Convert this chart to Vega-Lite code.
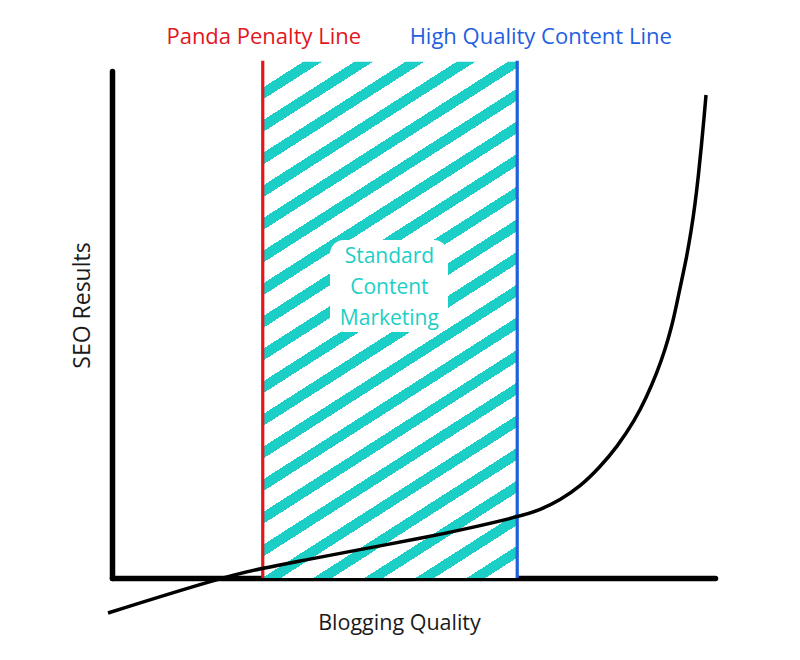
{
  "$schema": "https://vega.github.io/schema/vega-lite/v6.json",
  "width": 603,
  "height": 507,
  "autosize": "none",
  "padding": {"left": 112, "top": 71, "right": 85, "bottom": 82},
  "background": "white",
  "datasets": {
    "curve": [
      {"quality": -0.066, "seo": -0.69},
      {"quality": 1.791, "seo": 0},
      {"quality": 2.504, "seo": 0.197},
      {"quality": 3.118, "seo": 0.335},
      {"quality": 4.063, "seo": 0.552},
      {"quality": 5.158, "seo": 0.789},
      {"quality": 5.937, "seo": 0.986},
      {"quality": 6.716, "seo": 1.203},
      {"quality": 7.098, "seo": 1.341},
      {"quality": 7.43, "seo": 1.538},
      {"quality": 7.761, "seo": 1.801},
      {"quality": 8.093, "seo": 2.189},
      {"quality": 8.375, "seo": 2.584},
      {"quality": 8.673, "seo": 3.116},
      {"quality": 8.867, "seo": 3.576},
      {"quality": 9.033, "seo": 4.037},
      {"quality": 9.171, "seo": 4.497},
      {"quality": 9.282, "seo": 4.957},
      {"quality": 9.365, "seo": 5.404},
      {"quality": 9.448, "seo": 5.878},
      {"quality": 9.527, "seo": 6.312},
      {"quality": 9.602, "seo": 6.824},
      {"quality": 9.668, "seo": 7.357},
      {"quality": 9.726, "seo": 7.949},
      {"quality": 9.776, "seo": 8.54},
      {"quality": 9.818, "seo": 9.073},
      {"quality": 9.851, "seo": 9.527}
    ],
    "lines": [
      {"name": "Panda Penalty Line", "quality": 2.5, "top": 10.2},
      {"name": "High Quality Content Line", "quality": 6.72, "top": 10.2}
    ],
    "zone": [
      {"label": "Standard Content Marketing", "from": 2.5, "to": 6.72, "top": 10.18}
    ]
  },
  "layer": [
    {
      "data": {"name": "zone"},
      "mark": {
        "type": "rect",
        "fill": {
          "gradient": "linear",
          "x1": 0, "y1": 0, "x2": 0.3768, "y2": 1.1963,
          "stops": [
            {"offset": 0, "color": "#ffffff"},
            {"offset": 0.03798, "color": "#ffffff"}, {"offset": 0.03798, "color": "#1ccfc6"}, {"offset": 0.05548, "color": "#1ccfc6"}, {"offset": 0.05548, "color": "#ffffff"},
            {"offset": 0.08611, "color": "#ffffff"}, {"offset": 0.08611, "color": "#1ccfc6"}, {"offset": 0.10361, "color": "#1ccfc6"}, {"offset": 0.10361, "color": "#ffffff"},
            {"offset": 0.13423, "color": "#ffffff"}, {"offset": 0.13423, "color": "#1ccfc6"}, {"offset": 0.15174, "color": "#1ccfc6"}, {"offset": 0.15174, "color": "#ffffff"},
            {"offset": 0.18236, "color": "#ffffff"}, {"offset": 0.18236, "color": "#1ccfc6"}, {"offset": 0.19986, "color": "#1ccfc6"}, {"offset": 0.19986, "color": "#ffffff"},
            {"offset": 0.23049, "color": "#ffffff"}, {"offset": 0.23049, "color": "#1ccfc6"}, {"offset": 0.24799, "color": "#1ccfc6"}, {"offset": 0.24799, "color": "#ffffff"},
            {"offset": 0.27862, "color": "#ffffff"}, {"offset": 0.27862, "color": "#1ccfc6"}, {"offset": 0.29612, "color": "#1ccfc6"}, {"offset": 0.29612, "color": "#ffffff"},
            {"offset": 0.32675, "color": "#ffffff"}, {"offset": 0.32675, "color": "#1ccfc6"}, {"offset": 0.34425, "color": "#1ccfc6"}, {"offset": 0.34425, "color": "#ffffff"},
            {"offset": 0.37487, "color": "#ffffff"}, {"offset": 0.37487, "color": "#1ccfc6"}, {"offset": 0.39237, "color": "#1ccfc6"}, {"offset": 0.39237, "color": "#ffffff"},
            {"offset": 0.423, "color": "#ffffff"}, {"offset": 0.423, "color": "#1ccfc6"}, {"offset": 0.4405, "color": "#1ccfc6"}, {"offset": 0.4405, "color": "#ffffff"},
            {"offset": 0.47113, "color": "#ffffff"}, {"offset": 0.47113, "color": "#1ccfc6"}, {"offset": 0.48863, "color": "#1ccfc6"}, {"offset": 0.48863, "color": "#ffffff"},
            {"offset": 0.51926, "color": "#ffffff"}, {"offset": 0.51926, "color": "#1ccfc6"}, {"offset": 0.53676, "color": "#1ccfc6"}, {"offset": 0.53676, "color": "#ffffff"},
            {"offset": 0.56739, "color": "#ffffff"}, {"offset": 0.56739, "color": "#1ccfc6"}, {"offset": 0.58489, "color": "#1ccfc6"}, {"offset": 0.58489, "color": "#ffffff"},
            {"offset": 0.61552, "color": "#ffffff"}, {"offset": 0.61552, "color": "#1ccfc6"}, {"offset": 0.63302, "color": "#1ccfc6"}, {"offset": 0.63302, "color": "#ffffff"},
            {"offset": 0.66364, "color": "#ffffff"}, {"offset": 0.66364, "color": "#1ccfc6"}, {"offset": 0.68114, "color": "#1ccfc6"}, {"offset": 0.68114, "color": "#ffffff"},
            {"offset": 0.71177, "color": "#ffffff"}, {"offset": 0.71177, "color": "#1ccfc6"}, {"offset": 0.72927, "color": "#1ccfc6"}, {"offset": 0.72927, "color": "#ffffff"},
            {"offset": 0.7599, "color": "#ffffff"}, {"offset": 0.7599, "color": "#1ccfc6"}, {"offset": 0.7774, "color": "#1ccfc6"}, {"offset": 0.7774, "color": "#ffffff"},
            {"offset": 0.80803, "color": "#ffffff"}, {"offset": 0.80803, "color": "#1ccfc6"}, {"offset": 0.82553, "color": "#1ccfc6"}, {"offset": 0.82553, "color": "#ffffff"},
            {"offset": 0.85616, "color": "#ffffff"}, {"offset": 0.85616, "color": "#1ccfc6"}, {"offset": 0.87366, "color": "#1ccfc6"}, {"offset": 0.87366, "color": "#ffffff"},
            {"offset": 0.90428, "color": "#ffffff"}, {"offset": 0.90428, "color": "#1ccfc6"}, {"offset": 0.92178, "color": "#1ccfc6"}, {"offset": 0.92178, "color": "#ffffff"},
            {"offset": 0.95241, "color": "#ffffff"}, {"offset": 0.95241, "color": "#1ccfc6"}, {"offset": 0.96991, "color": "#1ccfc6"}, {"offset": 0.96991, "color": "#ffffff"},
            {"offset": 1, "color": "#ffffff"}
          ]
        }
      },
      "encoding": {
        "x": {"field": "from", "type": "quantitative", "title": "Blogging Quality", "scale": {"domain": [0, 10]}},
        "x2": {"field": "to"},
        "y": {"field": "top", "type": "quantitative", "title": "SEO Results", "scale": {"domain": [0, 10]}},
        "y2": {"datum": 0}
      }
    },
    {
      "data": {"name": "zone"},
      "mark": {"type": "rect", "fill": "#ffffff", "cornerRadius": 14},
      "encoding": {
        "x": {"datum": 3.615, "type": "quantitative", "title": "Blogging Quality"},
        "x2": {"datum": 5.572},
        "y": {"datum": 4.852, "type": "quantitative", "title": "SEO Results"},
        "y2": {"datum": 6.667}
      }
    },
    {
      "data": {"name": "zone"},
      "mark": {
        "type": "text",
        "font": "Open Sans",
        "fontSize": 21,
        "color": "#1ccfc6",
        "lineBreak": " ",
        "lineHeight": 31,
        "align": "center",
        "baseline": "middle"
      },
      "encoding": {
        "x": {"datum": 4.6, "type": "quantitative", "title": "Blogging Quality"},
        "y": {"datum": 6.33, "type": "quantitative", "title": "SEO Results"},
        "text": {"field": "label"}
      }
    },
    {
      "data": {"name": "lines"},
      "mark": {"type": "rule", "strokeWidth": 3.2},
      "encoding": {
        "x": {"field": "quality", "type": "quantitative", "title": "Blogging Quality"},
        "y": {"field": "top", "type": "quantitative", "title": "SEO Results"},
        "y2": {"datum": 0},
        "color": {
          "field": "name",
          "type": "nominal",
          "scale": {"domain": ["Panda Penalty Line", "High Quality Content Line"], "range": ["#e3161e", "#1f5fe0"]},
          "legend": null
        }
      }
    },
    {
      "data": {"name": "curve"},
      "mark": {"type": "line", "color": "#000000", "strokeWidth": 3.5, "interpolate": "basis", "clip": false},
      "encoding": {
        "x": {"field": "quality", "type": "quantitative", "title": "Blogging Quality"},
        "y": {"field": "seo", "type": "quantitative", "title": "SEO Results"}
      }
    },
    {
      "data": {"name": "lines"},
      "transform": [{"filter": "datum.name === 'Panda Penalty Line'"}],
      "mark": {"type": "text", "font": "Open Sans", "fontSize": 22, "align": "center", "baseline": "alphabetic", "dx": 1, "dy": -17},
      "encoding": {
        "x": {"field": "quality", "type": "quantitative", "title": "Blogging Quality"},
        "y": {"field": "top", "type": "quantitative", "title": "SEO Results"},
        "text": {"field": "name"},
        "color": {"field": "name", "type": "nominal", "legend": null}
      }
    },
    {
      "data": {"name": "lines"},
      "transform": [{"filter": "datum.name === 'High Quality Content Line'"}],
      "mark": {"type": "text", "font": "Open Sans", "fontSize": 22, "align": "center", "baseline": "alphabetic", "dx": 23.5, "dy": -17},
      "encoding": {
        "x": {"field": "quality", "type": "quantitative", "title": "Blogging Quality"},
        "y": {"field": "top", "type": "quantitative", "title": "SEO Results"},
        "text": {"field": "name"},
        "color": {"field": "name", "type": "nominal", "legend": null}
      }
    }
  ],
  "config": {
    "view": {"stroke": null},
    "axis": {
      "domainColor": "#000000",
      "domainWidth": 5.5,
      "domainCap": "round",
      "ticks": false,
      "labels": false,
      "grid": false,
      "titleFont": "Open Sans",
      "titleFontWeight": "normal",
      "titleColor": "#1a1a1a",
      "titleBaseline": "alphabetic",
      "titleAlign": "center",
      "zindex": 1
    },
    "axisX": {"titleFontSize": 21.5, "titleX": 287, "titleY": 51},
    "axisY": {"titleFontSize": 23, "titleAngle": 270, "titleX": -23, "titleY": 234}
  }
}
